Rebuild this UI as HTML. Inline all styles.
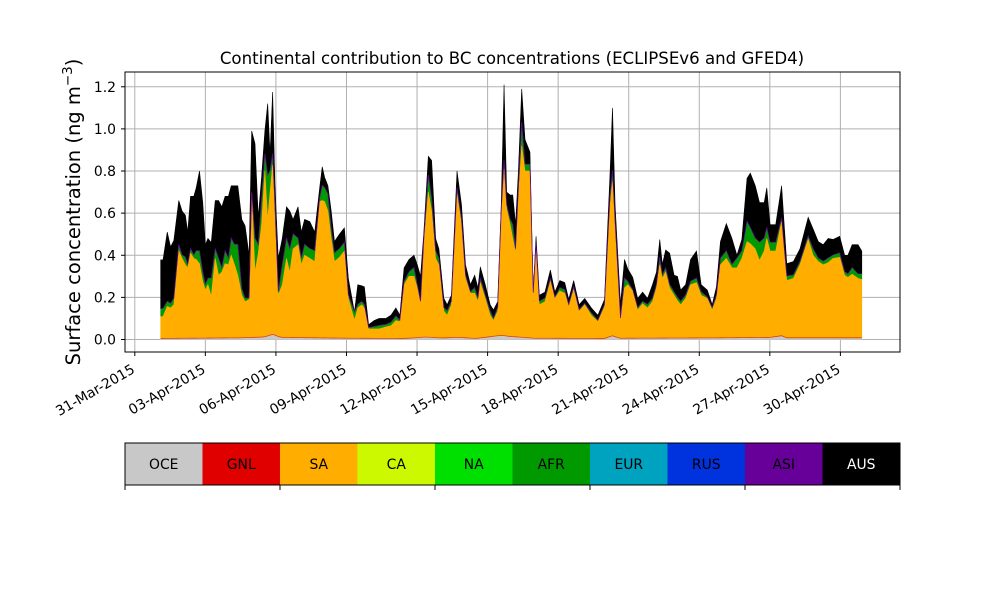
<!DOCTYPE html>
<html><head><meta charset="utf-8"><style>
body{margin:0;background:#fff;}
svg{font-family:"DejaVu Sans","Liberation Sans",sans-serif;}
</style></head><body>
<svg id="chart" width="1000" height="600" viewBox="0 0 1000 600">
<rect width="1000" height="600" fill="#fff"/>
<text x="512" y="64" text-anchor="middle" font-size="16.6">Continental contribution to BC concentrations (ECLIPSEv6 and GFED4)</text>
<g id="grid"></g>
<g id="areas"></g>
<rect x="125" y="72" width="775" height="280" fill="none" stroke="#000" stroke-width="1"/>
<g id="yaxis"></g>
<g id="xaxis"></g>
<text transform="translate(80,212) rotate(-90)" text-anchor="middle" font-size="19.5">Surface concentration (ng m<tspan dy="-8" font-size="13.5">−3</tspan><tspan dy="8">)</tspan></text>
<g id="legend"></g>
</svg>
<script>
// time in days since 31-Mar-2015 00:00
const times=[1.10,1.20,1.38,1.52,1.66,1.87,2.01,2.15,2.25,2.37,2.51,2.61,2.75,2.89,3.00,3.11,3.25,3.42,3.56,3.70,3.84,3.98,4.10,4.24,4.38,4.55,4.69,4.86,4.97,5.11,5.25,5.39,5.53,5.65,5.75,5.86,5.96,6.10,6.27,6.45,6.59,6.73,6.94,7.08,7.22,7.44,7.65,7.86,7.97,8.07,8.21,8.35,8.49,8.70,8.91,9.08,9.34,9.48,9.65,9.76,9.94,10.18,10.39,
10.68,10.89,11.10,11.27,11.45,11.66,11.87,12.01,12.15,12.29,12.48,12.62,12.79,12.93,13.14,13.28,13.46,13.70,13.89,14.06,14.27,14.45,14.59,14.69,14.90,15.11,15.25,15.43,15.58,15.70,15.81,15.96,16.07,16.19,16.31,16.45,16.59,16.80,16.94,17.06,17.20,17.44,17.67,17.86,18.07,18.28,18.45,18.66,18.89,19.13,19.41,19.69,19.97,20.21,20.31,20.42,20.65,20.82,
20.96,21.17,21.38,21.59,21.80,22.01,22.18,22.32,22.43,22.57,22.74,22.93,23.07,23.21,23.42,23.63,23.88,24.08,24.34,24.55,24.73,24.90,25.15,25.39,25.60,25.81,26.03,26.17,26.38,26.56,26.76,26.87,27.01,27.25,27.50,27.72,28.00,28.28,28.63,28.84,29.06,29.27,29.48,29.69,29.97,30.18,30.32,30.50,30.75,30.91];
// cumulative stack level: top of SA layer
const saLevel=[0.109,0.109,0.157,0.15,0.165,0.42,0.385,0.355,0.34,0.41,0.385,0.38,0.36,0.275,0.235,0.26,0.205,0.385,0.305,0.32,0.36,0.355,0.40,0.355,0.305,0.21,0.18,0.19,0.69,0.32,0.41,0.545,0.80,0.57,0.70,0.83,0.545,0.21,0.26,0.385,0.32,0.43,0.45,0.355,0.40,0.385,0.37,0.655,0.66,0.655,0.61,0.48,0.37,0.39,0.42,0.195,0.092,0.15,0.165,0.15,0.05,0.05,0.05,
0.06,0.065,0.09,0.085,0.26,0.30,0.30,0.245,0.165,0.45,0.70,0.61,0.385,0.355,0.135,0.115,0.165,0.69,0.545,0.29,0.22,0.22,0.18,0.27,0.195,0.115,0.09,0.135,0.57,0.81,0.62,0.545,0.48,0.41,0.67,0.92,0.80,0.80,0.21,0.43,0.165,0.18,0.275,0.195,0.23,0.22,0.155,0.235,0.135,0.165,0.115,0.085,0.155,0.64,0.75,0.51,0.085,0.245,
0.26,0.23,0.14,0.17,0.15,0.18,0.245,0.355,0.29,0.32,0.245,0.21,0.185,0.165,0.195,0.26,0.27,0.21,0.195,0.14,0.195,0.355,0.385,0.34,0.34,0.385,0.465,0.455,0.43,0.375,0.42,0.48,0.42,0.42,0.56,0.28,0.29,0.355,0.475,0.40,0.37,0.355,0.365,0.385,0.39,0.305,0.295,0.31,0.29,0.285];
// cumulative stack level: top of AFR (green) layer
const afrLevel=[0.146,0.146,0.18,0.17,0.195,0.45,0.40,0.39,0.355,0.43,0.40,0.42,0.42,0.32,0.26,0.29,0.29,0.43,0.385,0.34,0.42,0.385,0.48,0.45,0.45,0.24,0.195,0.195,0.70,0.48,0.45,0.67,0.88,0.78,0.80,0.88,0.64,0.225,0.355,0.48,0.43,0.50,0.48,0.385,0.45,0.43,0.42,0.67,0.73,0.72,0.69,0.53,0.41,0.43,0.46,0.21,0.13,0.165,0.18,0.165,0.055,0.06,0.065,
0.07,0.08,0.11,0.09,0.275,0.32,0.34,0.26,0.18,0.48,0.78,0.67,0.42,0.385,0.15,0.135,0.18,0.72,0.57,0.305,0.225,0.245,0.195,0.29,0.21,0.135,0.10,0.15,0.61,0.85,0.64,0.57,0.545,0.43,0.72,1.03,0.83,0.83,0.22,0.45,0.18,0.195,0.29,0.20,0.245,0.235,0.165,0.25,0.14,0.17,0.125,0.09,0.165,0.69,0.80,0.56,0.10,0.29,
0.275,0.235,0.15,0.18,0.165,0.195,0.26,0.39,0.305,0.34,0.26,0.225,0.20,0.18,0.21,0.275,0.29,0.225,0.20,0.15,0.21,0.385,0.42,0.355,0.385,0.42,0.56,0.53,0.48,0.46,0.48,0.53,0.46,0.46,0.575,0.30,0.305,0.37,0.49,0.43,0.385,0.37,0.385,0.40,0.41,0.32,0.31,0.34,0.31,0.31];
// total concentration (top of AUS layer)
const totalLevel=[0.378,0.378,0.51,0.44,0.47,0.66,0.61,0.59,0.51,0.68,0.68,0.72,0.80,0.65,0.45,0.48,0.46,0.66,0.66,0.63,0.68,0.68,0.73,0.73,0.73,0.57,0.54,0.40,0.99,0.93,0.58,0.77,0.99,1.12,0.88,1.175,0.73,0.385,0.48,0.63,0.61,0.57,0.63,0.51,0.57,0.56,0.51,0.72,0.82,0.77,0.73,0.61,0.465,0.50,0.53,0.29,0.13,0.26,0.255,0.25,0.07,0.09,0.10,
0.10,0.115,0.15,0.115,0.34,0.38,0.40,0.355,0.30,0.51,0.87,0.85,0.48,0.43,0.195,0.165,0.21,0.80,0.64,0.355,0.26,0.305,0.245,0.345,0.26,0.165,0.14,0.18,0.64,1.21,0.70,0.686,0.686,0.545,0.80,1.19,0.95,0.89,0.225,0.49,0.21,0.225,0.33,0.225,0.28,0.27,0.19,0.28,0.165,0.195,0.15,0.115,0.19,0.80,1.10,0.64,0.165,0.38,
0.335,0.295,0.195,0.225,0.195,0.26,0.32,0.475,0.355,0.425,0.41,0.305,0.30,0.235,0.26,0.38,0.42,0.26,0.235,0.165,0.25,0.465,0.55,0.48,0.40,0.475,0.765,0.79,0.73,0.65,0.65,0.72,0.545,0.545,0.73,0.36,0.37,0.43,0.58,0.525,0.465,0.45,0.48,0.475,0.49,0.40,0.40,0.45,0.45,0.42];
// ocean background contribution (bottom layer)
const oceTimes=[1.10,4.5,5.5,5.86,6.2,9.0,11.5,12.4,13.0,13.8,14.5,15.6,15.9,16.3,17.0,20.0,20.3,20.6,25.0,27.0,27.5,27.7,30.91];
const oceVals=[0.005,0.008,0.012,0.025,0.01,0.006,0.005,0.012,0.007,0.01,0.005,0.02,0.015,0.012,0.006,0.005,0.018,0.006,0.008,0.01,0.018,0.008,0.008];
const yTicks=[0,0.2,0.4,0.6,0.8,1.0,1.2];
const yTickLabels=["0.0","0.2","0.4","0.6","0.8","1.0","1.2"];
const xTickDays=[0,3,6,9,12,15,18,21,24,27,30];
const xTickLabels=["31-Mar-2015","03-Apr-2015","06-Apr-2015","09-Apr-2015","12-Apr-2015","15-Apr-2015","18-Apr-2015","21-Apr-2015","24-Apr-2015","27-Apr-2015","30-Apr-2015"];
const regions=["OCE","GNL","SA","CA","NA","AFR","EUR","RUS","ASI","AUS"];
const regionColors=["#c8c8c8","#e00000","#ffae00","#ccf900","#00e000","#009900","#00a3bf","#0033dd","#660099","#000000"];

const NS="http://www.w3.org/2000/svg";
function xs(d){return 134.8+d*23.52;}
function ys(v){return 339.5-v*210.6;}
function el(tag,attrs,parent){const e=document.createElementNS(NS,tag);for(const k in attrs)e.setAttribute(k,attrs[k]);parent.appendChild(e);return e;}
function interp(t,tt,vv){if(t<=tt[0])return vv[0];for(let i=1;i<tt.length;i++){if(t<=tt[i]){const f=(t-tt[i-1])/(tt[i]-tt[i-1]);return vv[i-1]+f*(vv[i]-vv[i-1]);}}return vv[vv.length-1];}

const grid=document.getElementById('grid');
yTicks.forEach((v,i)=>{
  const l=el('line',{x1:125,x2:900,y1:ys(v),y2:ys(v),stroke:'#b0b0b0','stroke-width':1},grid);
  
  
});
xTickDays.forEach((d,i)=>{
  const l=el('line',{x1:xs(d),x2:xs(d),y1:72,y2:352,stroke:'#b0b0b0','stroke-width':1},grid);
  
  
});

const areas=document.getElementById('areas');
const oceAt=times.map(t=>interp(t,oceTimes,oceVals));
function band(lower,upper,color,name){
  let d='M'+xs(times[0])+','+ys(upper[0]);
  for(let i=1;i<times.length;i++)d+='L'+xs(times[i]).toFixed(2)+','+ys(upper[i]).toFixed(2);
  for(let i=times.length-1;i>=0;i--)d+='L'+xs(times[i]).toFixed(2)+','+ys(lower[i]).toFixed(2);
  d+='Z';
  const p=el('path',{d:d,fill:color,stroke:color,'stroke-width':0.6},areas);
  
  
}
const zeros=times.map(()=>0);
band(afrLevel,totalLevel,'#000000','aus-area');
band(saLevel,afrLevel,'#009900','afr-area');
band(oceAt,saLevel,'#ffae00','sa-area');
band(zeros,oceAt,'#c8c8c8','oce-area');
let dp='M'+xs(times[0])+','+ys(afrLevel[0]);
for(let i=1;i<times.length;i++)dp+='L'+xs(times[i]).toFixed(2)+','+(ys(afrLevel[i])-0.5).toFixed(2);
const asiLine=el('path',{d:dp,fill:'none',stroke:'#660099','stroke-width':0.7},areas);


let dr='M'+xs(times[0])+','+ys(oceAt[0]);
for(let i=1;i<times.length;i++)dr+='L'+xs(times[i]).toFixed(2)+','+ys(oceAt[i]).toFixed(2);
const gnlLine=el('path',{d:dr,fill:'none',stroke:'#e04000','stroke-width':0.8},areas);



const yaxis=document.getElementById('yaxis');
yTicks.forEach((v,i)=>{
  const t=el('line',{x1:121,x2:125,y1:ys(v),y2:ys(v),stroke:'#000'},yaxis);
  
  
  const tx=el('text',{x:116,y:ys(v)+5,'text-anchor':'end','font-size':13.9},yaxis);
  tx.textContent=yTickLabels[i];
  
  
});
const xaxis=document.getElementById('xaxis');
xTickDays.forEach((d,i)=>{
  const t=el('line',{x1:xs(d),x2:xs(d),y1:352,y2:356,stroke:'#000'},xaxis);
  
  
  const tx=el('text',{transform:'translate('+(xs(d)+1)+',372) rotate(-30)','text-anchor':'end','font-size':13.9},xaxis);
  tx.textContent=xTickLabels[i];
  
  
});

const legend=document.getElementById('legend');
const bw=77.5;
regions.forEach((r,i)=>{
  const rc=el('rect',{x:125+i*bw,y:443,width:bw+0.5,height:42,fill:regionColors[i]},legend);
  
  
  const tx=el('text',{x:125+i*bw+bw/2,y:469,'text-anchor':'middle','font-size':13.9,fill:r==='AUS'?'#fff':'#000'},legend);
  tx.textContent=r;
  
  
});
const fr=el('rect',{x:125,y:443,width:775,height:42,fill:'none',stroke:'#000'},legend);


for(let k=0;k<=5;k++){
  const t=el('line',{x1:125+k*155,x2:125+k*155,y1:485,y2:490,stroke:'#000'},legend);
  
  
}
</script>
</body></html>
